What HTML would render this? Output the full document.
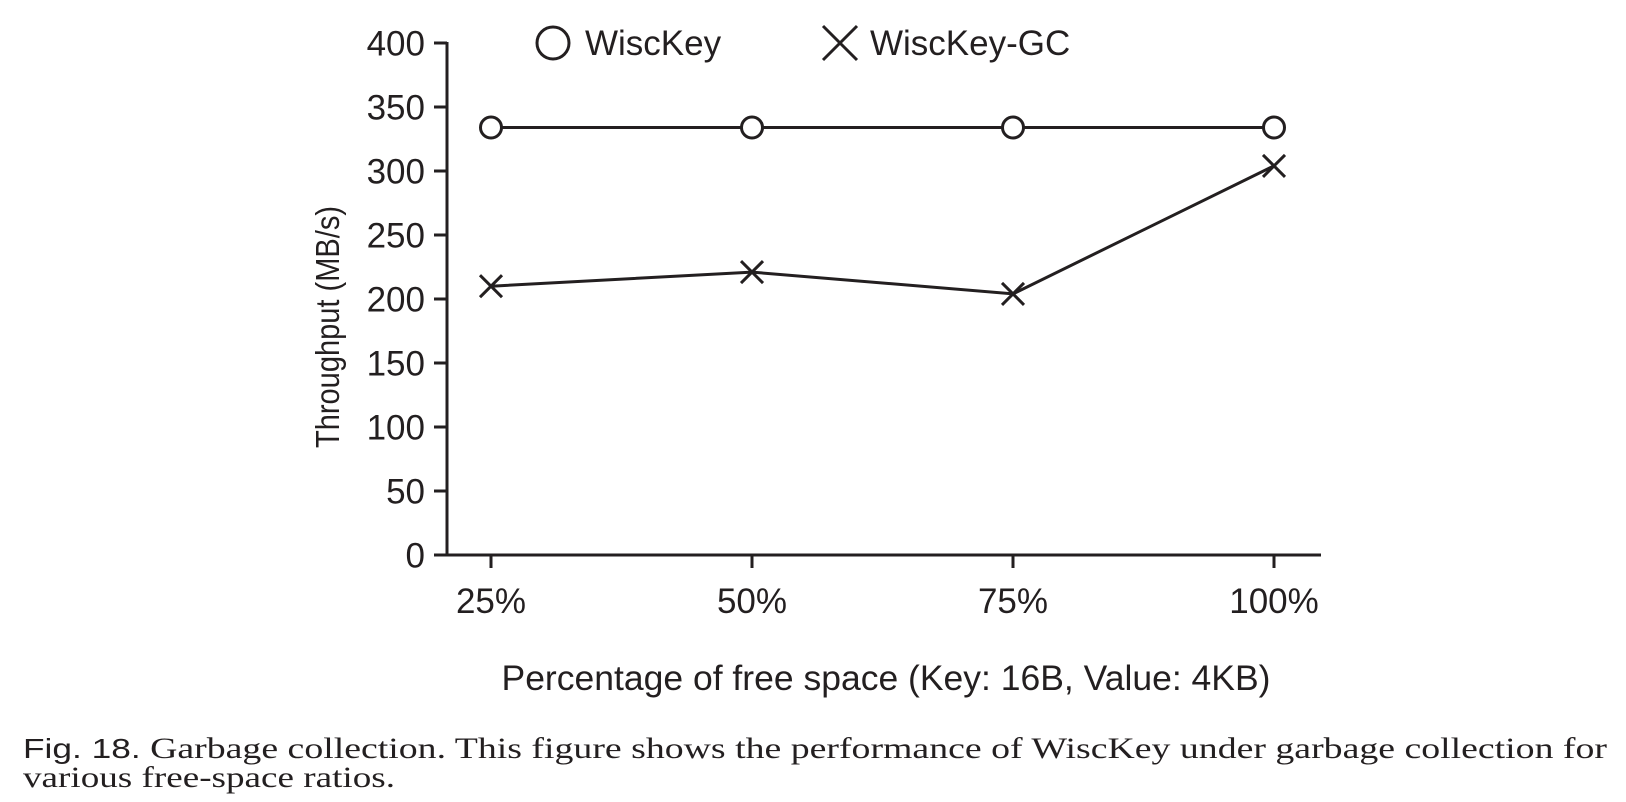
<!DOCTYPE html>
<html><head><meta charset="utf-8"><style>
html,body{margin:0;padding:0;background:#fff;}
svg{display:block}
text{font-family:"Liberation Sans",Arial,sans-serif;fill:#231f20}
.cap{font-family:"Liberation Serif",serif;font-size:30px;fill:#231f20}
</style></head><body>
<svg id="chart" width="1626" height="802" viewBox="0 0 1626 802">
<g id="axes"></g>
<g id="series"></g>
<g id="legend">
  <circle cx="553" cy="43" r="16" fill="none" stroke="#231f20" stroke-width="3"/>
  <text x="585" y="55" font-size="35">WiscKey</text>
  <path d="M823 26 L857 60 M857 26 L823 60" stroke="#231f20" stroke-width="3" fill="none"/>
  <text x="870" y="55" font-size="35">WiscKey-GC</text>
</g>
<text x="0" y="0" font-size="33" text-anchor="middle" textLength="242" lengthAdjust="spacingAndGlyphs" transform="translate(339,327) rotate(-90)">Throughput (MB/s)</text>
<text x="886" y="690" font-size="35.5" text-anchor="middle">Percentage of free space (Key: 16B, Value: 4KB)</text>
<text class="cap" x="23" y="758" textLength="1584" lengthAdjust="spacingAndGlyphs"><tspan font-family="Liberation Sans" font-size="28">Fig. 18.</tspan>  Garbage collection. This figure shows the performance of WiscKey under garbage collection for</text>
<text class="cap" x="23" y="787" textLength="372" lengthAdjust="spacingAndGlyphs">various free-space ratios.</text>
</svg>
<script>
const categories = ["25%","50%","75%","100%"];
const wisckey = [334, 334, 334, 334];
const wisckeyGC = [210, 221, 204, 304];
const yTicks = [0,50,100,150,200,250,300,350,400];

const NS="http://www.w3.org/2000/svg";
const X0=447, Y0=555, YTOP=43, XEND=1321;
function yScale(v){return Y0-(v/400)*(Y0-YTOP);}
function xScale(i){return 491+i*261;}
function mk(tag,attrs,parent){const e=document.createElementNS(NS,tag);for(const k in attrs)e.setAttribute(k,attrs[k]);parent.appendChild(e);return e;}
const axes=document.getElementById('axes'), series=document.getElementById('series');

let l=mk('line',{x1:X0,y1:YTOP-1,x2:X0,y2:Y0+1.5,stroke:'#231f20','stroke-width':3},axes);


l=mk('line',{x1:X0-1.5,y1:Y0,x2:XEND,y2:Y0,stroke:'#231f20','stroke-width':3},axes);


yTicks.forEach(v=>{
  const y=yScale(v);
  const t=mk('line',{x1:X0-13,y1:y,x2:X0,y2:y,stroke:'#231f20','stroke-width':3},axes);
  
  
  const tx=mk('text',{x:X0-22,y:y+12.5,'font-size':35,'text-anchor':'end'},axes);
  tx.textContent=v;
  
  
});
categories.forEach((c,i)=>{
  const x=xScale(i);
  const t=mk('line',{x1:x,y1:Y0,x2:x,y2:Y0+13,stroke:'#231f20','stroke-width':3},axes);
  
  
  const tx=mk('text',{x:x,y:613,'font-size':35,'text-anchor':'middle'},axes);
  tx.textContent=c;
  
  
});
function line(vals,name){
  const p=mk('polyline',{points:vals.map((v,i)=>xScale(i)+','+yScale(v)).join(' '),fill:'none',stroke:'#231f20','stroke-width':3},series);
  
  
}
line(wisckey,'wisckey-line');
line(wisckeyGC,'wisckey-gc-line');
wisckey.forEach((v,i)=>{
  const c=mk('circle',{cx:xScale(i),cy:yScale(v),r:10.5,fill:'#fff',stroke:'#231f20','stroke-width':3},series);
  
  
});
wisckeyGC.forEach((v,i)=>{
  const x=xScale(i),y=yScale(v),d=11;
  const p=mk('path',{d:`M${x-d} ${y-d} L${x+d} ${y+d} M${x+d} ${y-d} L${x-d} ${y+d}`,stroke:'#231f20','stroke-width':3,fill:'none'},series);
  
  
});
</script>
</body></html>
